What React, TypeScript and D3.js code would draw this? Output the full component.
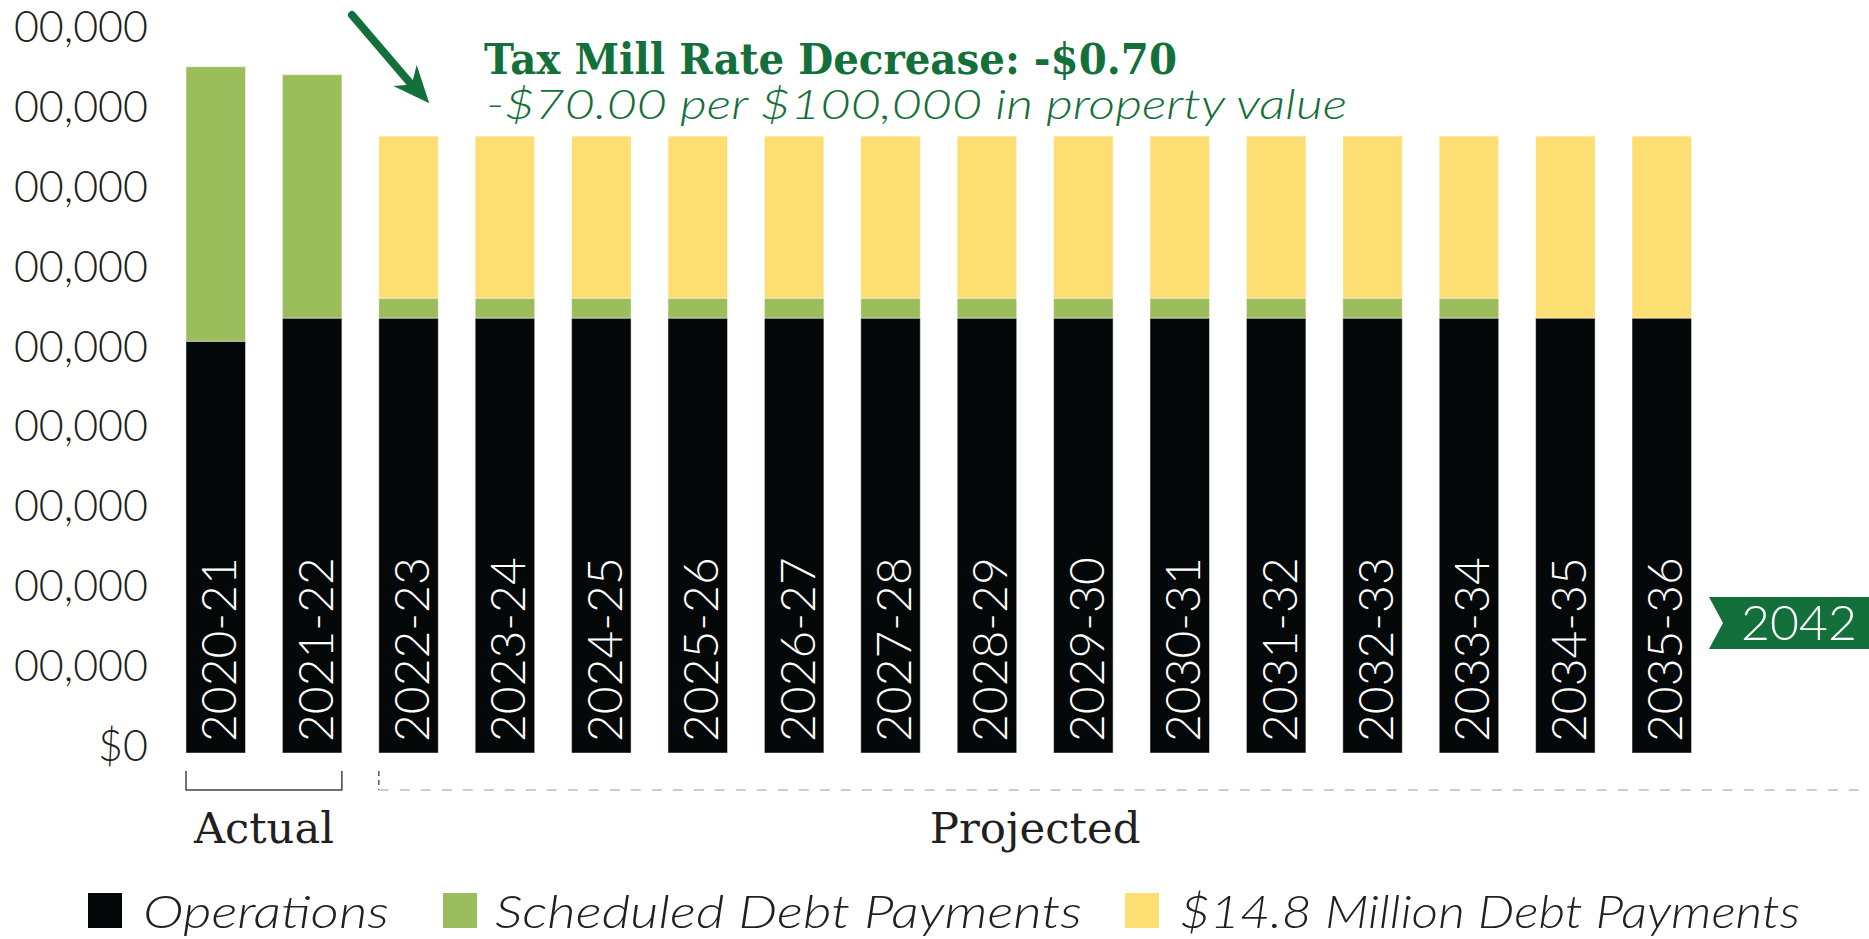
import React, { useEffect } from "react";
import * as d3 from "d3";

const categories = [
  "2020-21", "2021-22", "2022-23", "2023-24", "2024-25", "2025-26", "2026-27", "2027-28",
  "2028-29", "2029-30", "2030-31", "2031-32", "2032-33", "2033-34", "2034-35", "2035-36",
];
const operations = [5.16, 5.45, 5.45, 5.45, 5.45, 5.45, 5.45, 5.45, 5.45, 5.45, 5.45, 5.45, 5.45, 5.45, 5.45, 5.45];
const scheduledDebt = [3.44, 3.05, 0.25, 0.25, 0.25, 0.25, 0.25, 0.25, 0.25, 0.25, 0.25, 0.25, 0.25, 0.25, 0, 0];
const newDebt = [0, 0, 2.03, 2.03, 2.03, 2.03, 2.03, 2.03, 2.03, 2.03, 2.03, 2.03, 2.03, 2.03, 2.28, 2.28];
const tickValues = [0, 1, 2, 3, 4, 5, 6, 7, 8, 9];
const tickLabels = ["$0", "00,000", "00,000", "00,000", "00,000", "00,000", "00,000", "00,000", "00,000", "00,000"];
const seriesKeys = ["operations", "scheduled", "newDebt"];
const seriesNames = ["Operations", "Scheduled Debt Payments", "$14.8 Million Debt Payments"];
const seriesColors = ["#050809", "#9cbd5c", "#fcde72"];
const titleText = "Tax Mill Rate Decrease: -$0.70";
const subtitleText = "-$70.00 per $100,000 in property value";
const tagText = "2042";

const GREEN = "#14703a";
const TEXT = "#231f20";

export default function App() {
  useEffect(() => {
    document.body.style.margin = "0";
  }, []);

  const W = 1869;
  const H = 939;
  const x = d3.scaleBand<string>().domain(categories).range([186, 1691.5]).paddingInner(0.383).paddingOuter(0);
  const y = d3.scaleLinear().domain([0, 9]).range([753, 34.8]);

  const rows = categories.map((c, i) => ({
    cat: c,
    operations: operations[i],
    scheduled: scheduledDebt[i],
    newDebt: newDebt[i],
  }));
  const stack = d3.stack<any>().keys(seriesKeys)(rows);

  const bw = x.bandwidth();
  const projStart = x(categories[2]) as number;
  const projEnd = (x(categories[15]) as number) + bw;
  const actStart = x(categories[0]) as number;
  const actEnd = (x(categories[1]) as number) + bw;

  const legendX = [88, 443, 1125];
  const legendTextX = [143, 495, 1180];
  const legendTextW = [246, 587, 620];

  return (
    <svg width={W} height={H} style={{ position: "absolute", left: 0, top: 0, background: "#fff" }}
      fontFamily="Lato, 'Open Sans', sans-serif">
      {/* y tick labels */}
      {tickValues.map((v, i) => (
        <text key={"t" + i} x={148} y={y(v) - 9} textAnchor="end" dominantBaseline="central"
          fontSize={43} fontWeight={300} fill={TEXT}>{tickLabels[i]}</text>
      ))}

      {/* bars */}
      {stack.map((s, si) => (
        <g key={"s" + si} fill={seriesColors[si]}>
          {s.map((d, di) => {
            const h = y(d[0]) - y(d[1]);
            if (h <= 0.01) return null;
            return (
              <rect key={di} x={x(categories[di])} y={y(d[1])} width={bw} height={h}
                stroke="rgba(255,255,255,0.45)" strokeWidth={1} />
            );
          })}
        </g>
      ))}

      {/* category labels inside bars */}
      {categories.map((c) => {
        const cx = (x(c) as number) + bw / 2 + 2;
        return (
          <text key={"c" + c} transform={`translate(${cx},${y(0) - 11}) rotate(-90)`}
            dominantBaseline="central" fontSize={48} fontWeight={300} fill="#fff">{c}</text>
        );
      })}

      {/* Actual bracket */}
      <path d={`M${actStart},771V790H${actEnd}V771`} fill="none" stroke="#444" strokeWidth={1.5} />
      <text x={(actStart + actEnd) / 2} y={843} textAnchor="middle" fontFamily="'DejaVu Serif', serif"
        fontSize={43} fill={TEXT} textLength={140} lengthAdjust="spacingAndGlyphs">Actual</text>

      {/* Projected bracket */}
      <path d={`M${projStart},771V790`} fill="none" stroke="#555" strokeWidth={1.5} strokeDasharray="5 4" />
      <line x1={projStart} x2={W} y1={790} y2={790} stroke="#bdbdbd" strokeWidth={1.5} strokeDasharray="10 11" />
      <text x={(projStart + projEnd) / 2} y={843} textAnchor="middle" fontFamily="'DejaVu Serif', serif"
        fontSize={43} fill={TEXT} textLength={211} lengthAdjust="spacingAndGlyphs">Projected</text>

      {/* annotation */}
      <path d="M352,15L411,84" stroke={GREEN} strokeWidth={8} strokeLinecap="round" fill="none" />
      <path d="M429.3,103.3L393.3,86L411.7,84.5L416.7,65Z" fill={GREEN} />
      <text x={484} y={74} fontFamily="'DejaVu Serif', serif" fontWeight="bold" fontSize={42} fill={GREEN}
        textLength={693} lengthAdjust="spacingAndGlyphs">{titleText}</text>
      <text x={486} y={119} fontStyle="italic" fontWeight={300} fontSize={41} fill={GREEN}
        textLength={861} lengthAdjust="spacingAndGlyphs">{subtitleText}</text>

      {/* 2042 tag */}
      <path d="M1709,597H1869V649H1709L1723,623Z" fill={GREEN} />
      <text x={1741} y={640} fontSize={48} fontWeight={300} fill="#fff" textLength={116}
        lengthAdjust="spacingAndGlyphs">{tagText}</text>

      {/* legend */}
      {seriesNames.map((n, i) => (
        <g key={"l" + i}>
          <rect x={legendX[i]} y={893} width={34} height={35} fill={seriesColors[i]} />
          <text x={legendTextX[i]} y={928} fontStyle="italic" fontWeight={300} fontSize={46} fill={TEXT}
            textLength={legendTextW[i]} lengthAdjust="spacingAndGlyphs">{n}</text>
        </g>
      ))}
    </svg>
  );
}
